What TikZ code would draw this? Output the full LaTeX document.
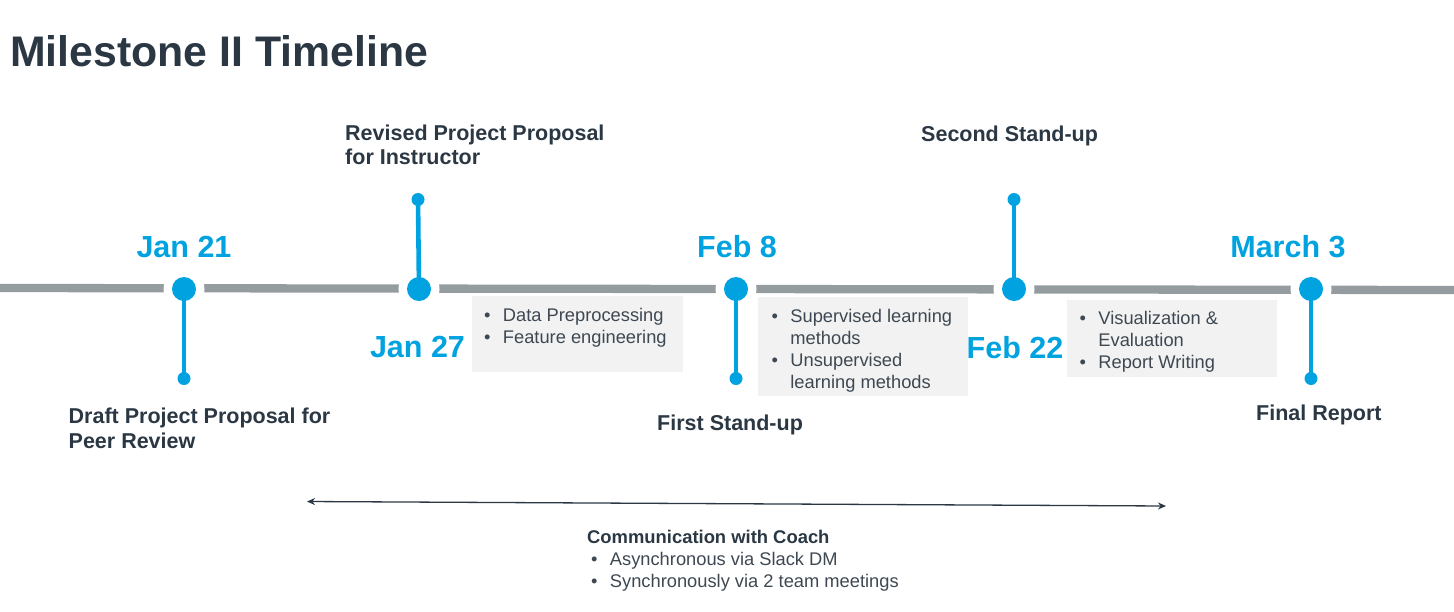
\documentclass[tikz,border=0pt]{standalone}
\usepackage{fontspec}
\setmainfont{Liberation Sans}
\usetikzlibrary{arrows.meta}
\definecolor{tlblue}{RGB}{0,163,224}
\definecolor{tlgray}{RGB}{149,156,160}
\definecolor{tldark}{RGB}{43,56,68}
\definecolor{tltext}{RGB}{62,72,82}
\definecolor{tlbox}{RGB}{242,242,242}
\tikzset{
  tlline/.style={draw=tlgray, line width=8.3pt},
  gapdisk/.style={fill=white},
  stemline/.style={draw=tlblue, line width=4.6pt},
  bigdot/.style={circle, fill=tlblue, draw=none, minimum size=24pt, inner sep=0pt},
  smalldot/.style={circle, fill=tlblue, draw=none, minimum size=13pt, inner sep=0pt},
  datelbl/.style={text=tlblue, font=\bfseries\fontsize{30.5}{36}\selectfont, inner sep=0pt, anchor=base},
  mslbl/.style={text=tldark, font=\bfseries\fontsize{21.5}{24.5}\selectfont, inner sep=0pt, anchor=base west},
  btext/.style={text=tltext, font=\fontsize{18.3}{22}\selectfont, inner sep=0pt, anchor=base west},
  boxstyle/.style={fill=tlbox, draw=none, inner sep=0pt, anchor=north west},
  coacharrow/.style={draw=tldark, line width=1.3pt, {Stealth[length=8pt,width=7pt]}-{Stealth[length=8pt,width=7pt]}},
}
\newcommand{\tlrows}[1]{\begin{tabular}[t]{@{}l@{\hspace{12.3pt}}l@{}}#1\end{tabular}}
\newcommand{\tllines}[1]{\begin{tabular}[t]{@{}l@{}}#1\end{tabular}}
\begin{document}
\begin{tikzpicture}[x=1pt, y=-1pt]
\useasboundingbox (0,0) rectangle (1454,611);
% title
\node[text=tldark, font=\bfseries\fontsize{42.8}{50}\selectfont, inner sep=0pt, anchor=base west] (title) at (10,66) {Milestone II Timeline};
% timeline
\coordinate (L) at (0,288);
\coordinate (R) at (1454,290);
\draw[tlline] (L) -- (R);
\coordinate (m1) at (184,289);
\coordinate (m2) at (419,289);
\coordinate (m3) at (736,289);
\coordinate (m4) at (1014,289);
\coordinate (m5) at (1311,289);
\foreach \m in {m1,m2,m3,m4,m5} { \fill[gapdisk] (\m) circle (20.5pt); }
% boxes
\node[boxstyle, minimum width=211pt, minimum height=76pt] (b1) at (472,296) {};
\node[boxstyle, minimum width=210pt, minimum height=99pt] (b2) at (758,297) {};
\node[boxstyle, minimum width=210pt, minimum height=77pt] (b3) at (1067,300) {};
% small dots
\node[smalldot] (d1) at (184,378.5) {};
\node[smalldot] (d2) at (418,199.5) {};
\node[smalldot] (d3) at (736,378.5) {};
\node[smalldot] (d4) at (1014,199.5) {};
\node[smalldot] (d5) at (1311,378.5) {};
% stems
\draw[stemline] (m1) -- (d1.center);
\draw[stemline] (m2) -- (d2.center);
\draw[stemline] (m3) -- (d3.center);
\draw[stemline] (m4) -- (d4.center);
\draw[stemline] (m5) -- (d5.center);
% big dots
\node[bigdot] (c1) at (m1) {};
\node[bigdot] (c2) at (m2) {};
\node[bigdot] (c3) at (m3) {};
\node[bigdot] (c4) at (m4) {};
\node[bigdot] (c5) at (m5) {};
% dates
\node[datelbl] (t1) at (184,257) {Jan 21};
\node[datelbl] (t2) at (417.5,357) {Jan 27};
\node[datelbl] (t3) at (737,257) {Feb 8};
\node[datelbl] (t4) at (1015,358.5) {Feb 22};
\node[datelbl] (t5) at (1288,257) {March 3};
% milestone labels
\node[mslbl] (l2) at (345,140) {\tllines{Revised Project Proposal\\for Instructor}};
\node[mslbl] (l4) at (921,141.5) {Second Stand-up};
\node[mslbl] (l1) at (68.5,423.5) {\tllines{Draft Project Proposal for\\Peer Review}};
\node[mslbl] (l3) at (657,430.5) {First Stand-up};
\node[mslbl] (l5) at (1256,420) {Final Report};
% box texts
\node[btext] (x1) at (484,321) {\tlrows{•&Data Preprocessing\\•&Feature engineering}};
\node[btext] (x2) at (771.5,322.5) {\tlrows{•&Supervised learning\\&methods\\•&Unsupervised\\&learning methods}};
\node[btext] (x3) at (1079.5,324.5) {\tlrows{•&Visualization \&\\&Evaluation\\•&Report Writing}};
% coach arrow
\coordinate (a1) at (307,501.5);
\coordinate (a2) at (1166,506);
\draw[coacharrow] (a1) -- (a2);
\node[text=tldark, font=\bfseries\fontsize{18.4}{22}\selectfont, inner sep=0pt, anchor=base west] (ch) at (587,543) {Communication with Coach};
\node[btext] (cl) at (591,565) {\tlrows{•&Asynchronous via Slack DM\\•&Synchronously via 2 team meetings}};
\end{tikzpicture}
\end{document}
